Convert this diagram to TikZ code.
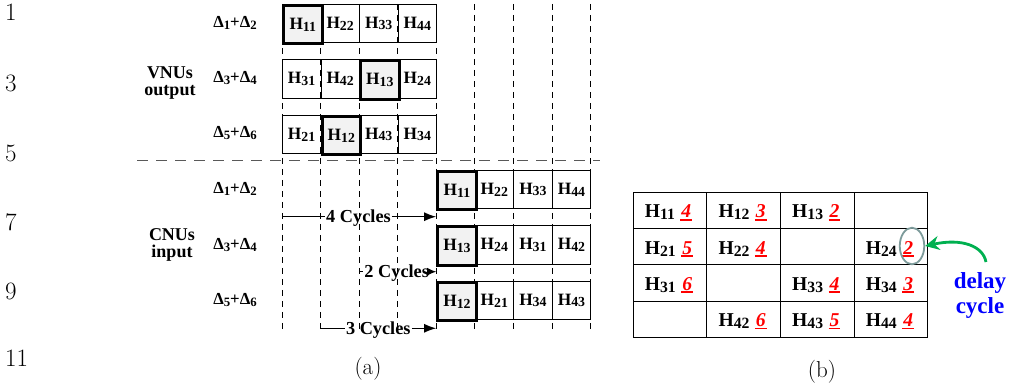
\documentclass[tikz,border=0pt]{standalone}
\usepackage{fontspec}
\usepackage{graphicx}
\usetikzlibrary{arrows.meta,shapes.geometric,calc}
\newfontfamily\tnr{Liberation Serif}
\definecolor{ellc}{RGB}{125,155,155}
\definecolor{grn}{RGB}{0,176,80}
\newcommand\sbs[2][0.8]{\raisebox{-0.1em}{\scalebox{#1}{#2}}}
\newcommand\Hc[1]{H\sbs{#1}}
\newcommand\DD[2]{Δ\sbs[0.76]{#1}+Δ\sbs[0.76]{#2}}
\newcommand\rnum[1]{{\color{red}\itshape\setbox0\hbox{#1}\rlap{\hspace{-1pt}\rule[-2.8pt]{\dimexpr\wd0+2pt\relax}{1.6pt}}\box0}}
\tikzset{
 cellA/.style={draw, line width=0.7pt, minimum width=38.55pt, minimum height=38.3pt, inner sep=0pt, anchor=north west, font=\tnr\bfseries\fontsize{17.3}{18}\selectfont},
 hl/.style={line width=3pt, fill=gray!10},
 plain/.style={},
 dlab/.style={font=\tnr\bfseries\fontsize{16.8}{17}\selectfont, inner sep=0pt},
 grp/.style={font=\tnr\bfseries\fontsize{18}{17}\selectfont, align=center, inner sep=0pt},
 cyc/.style={font=\tnr\bfseries\fontsize{18.3}{18}\selectfont, inner sep=1pt, anchor=base},
 vdash/.style={line width=0.6pt, dash pattern=on 6pt off 5pt},
 sepdash/.style={line width=1pt, gray!70!black, dash pattern=on 11pt off 8pt},
 arr/.style={line width=1.2pt},
 cellB/.style={draw, line width=0.8pt, minimum width=73.65pt, minimum height=36.2pt, anchor=north west, inner sep=0pt},
 btxt/.style={font=\tnr\bfseries\fontsize{19.6}{20}\selectfont, anchor=base west, inner sep=0pt},
 lnum/.style={font=\fontsize{25}{28}\selectfont, anchor=base west, inner sep=0pt},
 capt/.style={font=\fontsize{23}{26}\selectfont, inner sep=0pt},
 blu/.style={font=\tnr\bfseries\fontsize{23}{25}\selectfont, text=blue, anchor=base, inner sep=0pt},
}
\begin{document}
\begin{tikzpicture}[x=1pt,y=-1pt]
\useasboundingbox (0,0) rectangle (1010,387);
% line numbers
\node[lnum] (n1) at (5,20.6) {1};
\node[lnum] (n3) at (5,91.6) {3};
\node[lnum] (n5) at (5,161.6) {5};
\node[lnum] (n7) at (5,230.6) {7};
\node[lnum] (n9) at (5,299.6) {9};
\node[lnum] (n11) at (5,366.6) {11};
% dashed grid
\foreach \k in {0,...,8} \draw[vdash] ({282+38.55*\k},4) -- ({282+38.55*\k},333);
\draw[sepdash] (137,161) -- (600,161);
% VNU rows
\foreach \t/\s [count=\i from 0] in {11/hl,22/plain,33/plain,44/plain}
  \node[cellA,\s] (ta\i) at ({282+38.55*\i},4) {\Hc{\t}};
\foreach \t/\s [count=\i from 0] in {31/plain,42/plain,13/hl,24/plain}
  \node[cellA,\s] (tb\i) at ({282+38.55*\i},59.5) {\Hc{\t}};
\foreach \t/\s [count=\i from 0] in {21/plain,12/hl,43/plain,34/plain}
  \node[cellA,\s] (tc\i) at ({282+38.55*\i},115) {\Hc{\t}};
% CNU rows
\foreach \t/\s [count=\i from 0] in {11/hl,22/plain,33/plain,44/plain}
  \node[cellA,\s] (ba\i) at ({282+38.55*(\i+4)},170) {\Hc{\t}};
\foreach \t/\s [count=\i from 0] in {13/hl,24/plain,31/plain,42/plain}
  \node[cellA,\s] (bb\i) at ({282+38.55*(\i+4)},225.5) {\Hc{\t}};
\foreach \t/\s [count=\i from 0] in {12/hl,21/plain,34/plain,43/plain}
  \node[cellA,\s] (bc\i) at ({282+38.55*(\i+4)},281) {\Hc{\t}};
% row labels
\node[dlab] (d1) at (235,23) {\DD{1}{2}};
\node[dlab] (d2) at (235,78) {\DD{3}{4}};
\node[dlab] (d3) at (235,133) {\DD{5}{6}};
\node[dlab] (d4) at (235,189) {\DD{1}{2}};
\node[dlab] (d5) at (235,245) {\DD{3}{4}};
\node[dlab] (d6) at (235,300) {\DD{5}{6}};
\node[grp] (vnu) at (170,83) {VNUs\\output};
\node[grp] (cnu) at (172,245) {CNUs\\input};
% cycle arrows
\coordinate (c4s) at (282,216.7);
\coordinate (c4e) at (436.2,216.7);
\node[cyc] (c4t) at (358.5,222.8) {4 Cycles};
\draw[arr] (c4s) -- (c4s -| c4t.west);
\draw[arr,-{Latex[length=12pt,width=9pt]}] (c4t.east |- c4e) -- (c4e);
\coordinate (c2s) at (359.1,271.7);
\coordinate (c2e) at (436.2,271.7);
\node[cyc] (c2t) at (396.7,277.8) {2 Cycles};
\draw[arr] (c2s) -- (c2s -| c2t.west);
\draw[arr,-{Latex[length=9pt,width=8pt]}] (c2t.east |- c2e) -- (c2e);
\coordinate (c3s) at (320.55,328.3);
\coordinate (c3e) at (436.2,328.3);
\node[cyc] (c3t) at (378.3,334.4) {3 Cycles};
\draw[arr] (c3s) -- (c3s -| c3t.west);
\draw[arr,-{Latex[length=12pt,width=9pt]}] (c3t.east |- c3e) -- (c3e);
\node[capt] (capa) at (368,369) {(a)};
% table (b)
\foreach \r in {0,...,3}
  \foreach \c in {0,...,3}
    \node[cellB] (g\r\c) at ({632.7+73.65*\c},{192+36.2*\r}) {};
\foreach \r/\c/\h/\d in {0/0/11/4,0/1/12/3,0/2/13/2,1/0/21/5,1/1/22/4,1/3/24/2,2/0/31/6,2/2/33/4,2/3/34/3,3/1/42/6,3/2/43/5,3/3/44/4}
  \node[btxt] (h\r\c) at ($(g\r\c.west)+(12,7.4)$) {\Hc{\h}\hspace{6.5pt}\rnum{\d}};
\node[draw=ellc, line width=1.8pt, ellipse, minimum width=24.5pt, minimum height=36.6pt, inner sep=0pt] (ell) at (912,246) {};
\coordinate (gs) at (986,262);
\draw[grn, line width=2.8pt, -{Stealth[length=14pt,width=14pt]}] (gs) .. controls (983,246) and (962,238) .. (ell.east);
\node[blu] (dl1) at (980,289) {delay};
\node[blu] (dl2) at (980,314) {cycle};
\node[capt] (capb) at (822,371.5) {(b)};
\end{tikzpicture}
\end{document}
